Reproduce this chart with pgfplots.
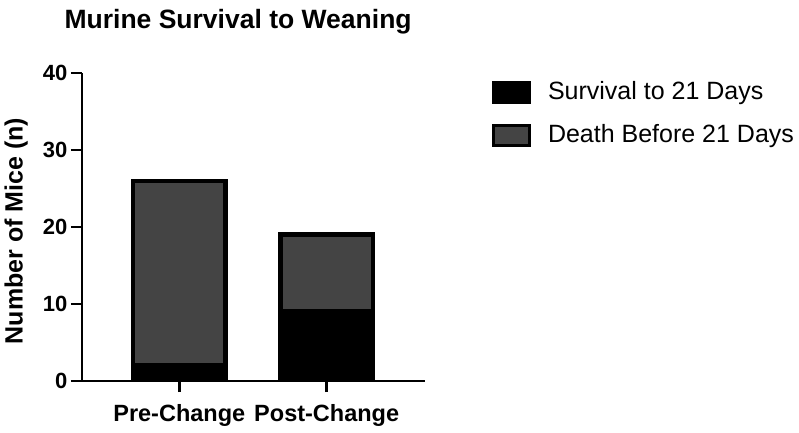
\documentclass[border=0pt]{standalone}
\usepackage{fontspec}
\setmainfont{Liberation Sans}
\usepackage{pgfplots}
\pgfplotsset{compat=1.18}
\definecolor{deathgray}{RGB}{68,68,68}
\begin{document}
\begin{tikzpicture}
\path[use as bounding box] (0pt,0pt) rectangle (799pt,432pt);
\begin{axis}[
  at={(82pt,51pt)}, anchor=south west,
  scale only axis, width=343pt, height=308pt,
  xmin=-0.66, xmax=1.667, ymin=0, ymax=40,
  axis x line*=bottom, axis y line*=left,
  axis line style={-, line width=2.5pt, black},
  tick style={line width=2.5pt, black},
  tick align=outside, major tick length=11pt,
  xtick={0,1}, xticklabels={Pre-Change, Post-Change},
  ytick={0,10,20,30,40},
  /pgf/number format/assume math mode=true,
  yticklabel style={font=\bfseries\fontsize{22}{22}\selectfont},
  xticklabel style={font=\bfseries\fontsize{23.5}{23.5}\selectfont, yshift=-9pt},
  ylabel={Number of Mice (n)},
  ylabel style={at={(axis description cs:-0.192,0.487)}, anchor=center, rotate=0, font=\bfseries\fontsize{25}{25}\selectfont},
  title={Murine Survival to Weaning},
  title style={at={(axis description cs:-0.061,1.146)}, anchor=base west, yshift=-6pt, font=\bfseries\fontsize{26.5}{26.5}\selectfont},
  ybar stacked, bar width=0.63,
  legend style={draw=none, fill=none, at={(axis description cs:1.186,0.9865)}, anchor=north west,
    font=\fontsize{25}{25}\selectfont, row sep=18pt, column sep=0pt},
  legend cell align=left,
  legend image code/.code={\draw[#1, /tikz/line width=3pt] (1.5pt,-11.5pt) rectangle (37.5pt,8.5pt);
    \path[draw=none, fill=none] (37.5pt,0pt) -- (54pt,0pt);},
]
\addplot[draw=black, line width=4.5pt, fill=black] coordinates {(0,2) (1,9)};
\addplot[draw=black, line width=4.5pt, fill=deathgray] coordinates {(0,24) (1,10)};
\legend{Survival to 21 Days, Death Before 21 Days}
\end{axis}
\end{tikzpicture}
\end{document}
